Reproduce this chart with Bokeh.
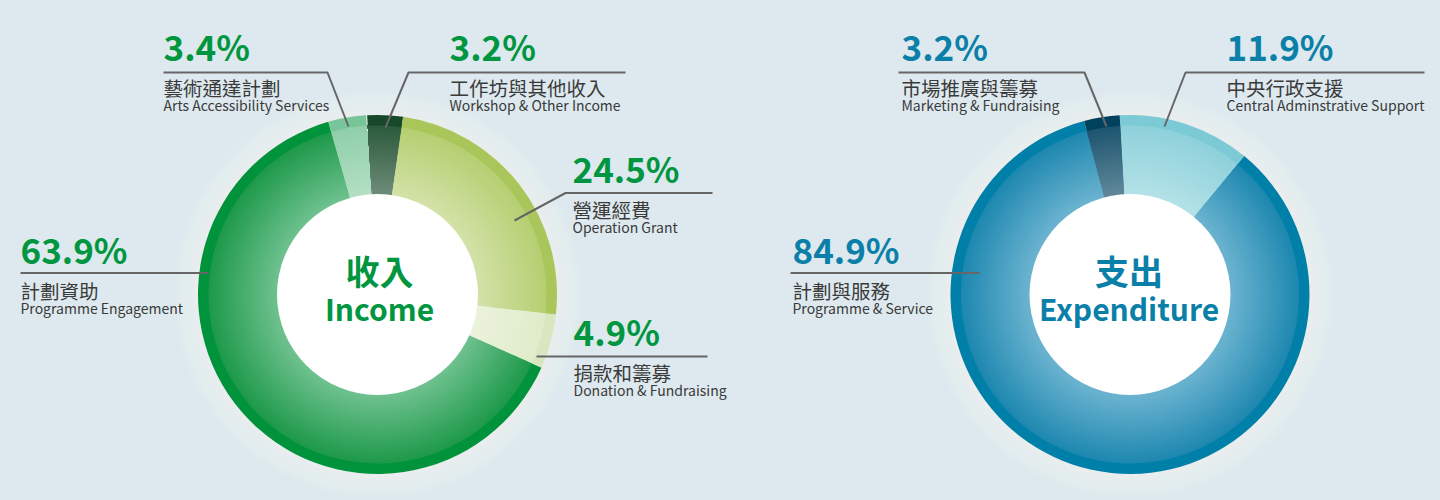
import numpy as np
from bokeh.plotting import figure
from bokeh.models import Range1d
from bokeh.core.properties import value
from bokeh.embed import file_html
from bokeh.resources import INLINE

# ---------------- data ----------------
income_cn = ["工作坊與其他收入", "營運經費", "捐款和籌募", "計劃資助", "藝術通達計劃"]
income_en = ["Workshop & Other Income", "Operation Grant", "Donation & Fundraising",
             "Programme Engagement", "Arts Accessibility Services"]
income_pct = [3.2, 24.5, 4.9, 63.9, 3.4]

expend_cn = ["中央行政支援", "計劃與服務", "市場推廣與籌募"]
expend_en = ["Central Adminstrative Support", "Programme & Service", "Marketing & Fundraising"]
expend_pct = [11.9, 84.9, 3.2]

center_cn = ["收入", "支出"]
center_en = ["Income", "Expenditure"]

# ---------------- styles / layout ----------------
BG = "#dde9ee"
FONT = "Noto Sans CJK TC"
GREEN_TXT = "#00963f"
BLUE_TXT = "#0a80a8"
LABEL_TXT = "#3a3a3a"
LEADER = "#666666"
BASE_K = 0.43   # renderer offset of the alphabetic baseline, as a fraction of font size

income_rim = ["#17482b", "#a8c65a", "#d9e7c0", "#00933b", "#79c59a"]
income_outer = ["#2d5b3d", "#b6cf72", "#e0ecca", "#1f9a4b", "#90cfa9"]
income_inner = ["#6e8c7a", "#d3e2a8", "#ebf2dc", "#6fc18f", "#b3e0c4"]

expend_rim = ["#7ccad5", "#0080a8", "#00425e"]
expend_outer = ["#8fd1db", "#1f88b0", "#1e5570"]
expend_inner = ["#b3e2e7", "#6cb4d0", "#62899a"]

W, H = 1440, 500


def sy(screen_y):
    """screen pixel row -> data y"""
    return H - screen_y


def ty(baseline, size):
    """data y for a text whose alphabetic baseline should sit at screen row `baseline`"""
    return sy(baseline - BASE_K * size)


p = figure(width=W, height=H, x_range=Range1d(0, W), y_range=Range1d(0, H),
           output_backend="svg", toolbar_location=None, min_border=0,
           x_axis_location=None, y_axis_location=None)
p.grid.visible = False
p.outline_line_color = None
p.background_fill_color = BG
p.border_fill_color = BG


def hex2rgb(h):
    h = h.lstrip("#")
    return np.array([int(h[i:i + 2], 16) for i in (0, 2, 4)], dtype=float)


def mix(c1, c2, t):
    a, b = hex2rgb(c1), hex2rgb(c2)
    c = a + (b - a) * t
    return "#%02x%02x%02x" % tuple(int(round(v)) for v in c)


def donut(cx, cy_screen, pcts, rim, outer, inner, offset=-3.3):
    cy = sy(cy_screen)
    m = len(pcts)
    edges = np.concatenate([[0.0], np.cumsum(pcts)]) / 100.0 * 360.0 + offset
    th1, th2 = edges[:-1], edges[1:]
    start = list(np.radians(90 - th2))
    end = list(np.radians(90 - th1))
    # soft glow around donut
    for r in np.arange(204, 179, -2.0):
        p.circle(x=[cx], y=[cy], radius=r, fill_color="white", fill_alpha=0.05, line_color=None)
    R_IN, R_MID, R_OUT = 99.0, 169.0, 179.5
    n = 30
    for k in range(n):
        t = k / (n - 1)
        r0 = R_IN + (R_MID - R_IN) * k / n
        cols = [mix(inner[i], outer[i], t) for i in range(m)]
        p.annular_wedge(x=[cx] * m, y=[cy] * m, inner_radius=r0, outer_radius=R_MID + 0.5,
                        start_angle=start, end_angle=end, fill_color=cols, line_color=None)
    p.annular_wedge(x=[cx] * m, y=[cy] * m, inner_radius=R_MID, outer_radius=R_OUT,
                    start_angle=start, end_angle=end, fill_color=rim, line_color=None)
    p.circle(x=[cx], y=[cy], radius=100.5, fill_color="white", line_color=None)


donut(377, 294, income_pct, income_rim, income_outer, income_inner)
donut(1129.5, 294, expend_pct, expend_rim, expend_outer, expend_inner)

# ---------------- labels ----------------
# anchor (x, pct baseline) and leader polyline (screen coords) for each slice
income_layout = [
    dict(x=449, yb=60, leader=[(625, 72), (408, 72), (385, 127)]),
    dict(x=572, yb=182, leader=[(712, 192.5), (565, 192.5), (514, 220)]),
    dict(x=573, yb=345, leader=[(707, 356), (536, 356)]),
    dict(x=20, yb=263, leader=[(20, 272.5), (208, 272.5)]),
    dict(x=163, yb=60, leader=[(163, 72), (327, 72), (348, 126)]),
]
expend_layout = [
    dict(x=1226, yb=60, leader=[(1424, 72), (1185, 72), (1164, 126)]),
    dict(x=792, yb=263, leader=[(790, 272.5), (979, 272.5)]),
    dict(x=901, yb=60, leader=[(898, 72), (1084, 72), (1106, 126)]),
]

PCT_SIZE, CN_SIZE, EN_SIZE = 35, 19.5, 14


def labels(pcts, cn, en, layout, color):
    xs = [l["x"] for l in layout]
    p.multi_line(xs=[[a for a, b in l["leader"]] for l in layout],
                 ys=[[sy(b) for a, b in l["leader"]] for l in layout],
                 line_color=LEADER, line_width=2)
    p.text(x=xs, y=[ty(l["yb"], PCT_SIZE) for l in layout], text=[f"{v}%" for v in pcts],
           text_font=value(FONT), text_font_size=f"{PCT_SIZE}px", text_font_style="bold",
           text_color=color, text_baseline="alphabetic", text_align="left")
    p.text(x=xs, y=[ty(l["yb"] + 35, CN_SIZE) for l in layout], text=cn,
           text_font=value(FONT), text_font_size=f"{CN_SIZE}px",
           text_color=LABEL_TXT, text_baseline="alphabetic", text_align="left")
    p.text(x=xs, y=[ty(l["yb"] + 50.5, EN_SIZE) for l in layout], text=en,
           text_font=value(FONT), text_font_size=f"{EN_SIZE}px",
           text_color=LABEL_TXT, text_baseline="alphabetic", text_align="left")


labels(income_pct, income_cn, income_en, income_layout, GREEN_TXT)
labels(expend_pct, expend_cn, expend_en, expend_layout, BLUE_TXT)

# centre titles
CC_SIZE, CE_SIZE = 34, 30
p.text(x=[379, 1128.5], y=[ty(285, CC_SIZE)] * 2, text=center_cn,
       text_font=value(FONT), text_font_size=f"{CC_SIZE}px", text_font_style="bold",
       text_color=[GREEN_TXT, BLUE_TXT], text_baseline="alphabetic", text_align="center")
p.text(x=[379, 1128.5], y=[ty(320, CE_SIZE)] * 2, text=center_en,
       text_font=value(FONT), text_font_size=f"{CE_SIZE}px", text_font_style="bold",
       text_color=[GREEN_TXT, BLUE_TXT], text_baseline="alphabetic", text_align="center")

html = file_html(p, INLINE, title="Income and Expenditure")
html = html.replace("<head>", "<head><style>html,body{margin:0;padding:0;background:%s;}</style>" % BG, 1)
open("out.html", "w").write(html)
